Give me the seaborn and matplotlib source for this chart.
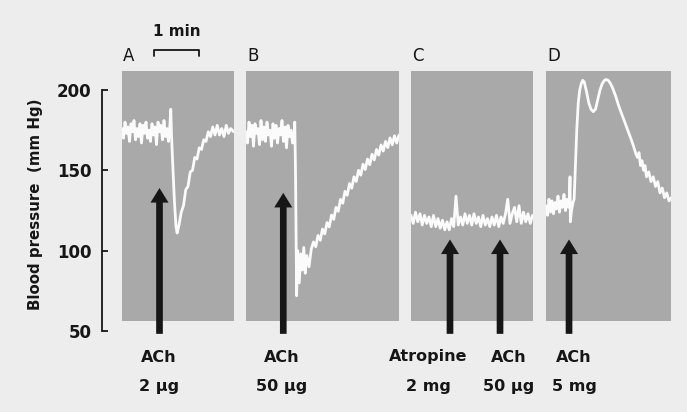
import numpy as np
import pandas as pd
import matplotlib
matplotlib.use("Agg")
import matplotlib.pyplot as plt
from matplotlib.lines import Line2D
import seaborn as sns

# Blood pressure traces, time in s from the start of each panel, pressure in mmHg
# A: ACh 2 ug
a_time = [0, 2, 4, 6, 8, 10, 12, 14, 16, 18, 20, 22, 24, 26, 28, 30, 32, 34, 36, 38, 40,
          42, 44, 46, 48, 50, 52, 54, 56, 58, 60, 62, 64,
          65, 66, 68, 70, 72, 73.5, 76, 79, 82, 85, 88, 91, 94, 97, 100, 103, 106, 109,
          112, 115, 118, 121, 124, 127, 130, 133, 136, 139, 142, 145, 149]
a_bp = [176, 170, 180, 173, 177, 168, 179, 174, 181, 169, 176, 171, 179, 167, 178, 173, 180,
        170, 175, 168, 179, 172, 177, 166, 180, 174, 178, 169, 181, 171, 176, 168, 179,
        188, 172, 150, 130, 115, 111, 116, 124, 128, 138, 140, 149, 150, 158, 157, 164, 163,
        169, 168, 174, 171, 177, 172, 178, 172, 176, 171, 178, 173, 176, 174]

# B: ACh 50 ug
b_time = [0, 2, 4, 6, 8, 10, 12, 14, 16, 18, 20, 22, 24, 26, 28, 30, 32, 34, 36, 38, 40,
          42, 44, 46, 48, 50, 52, 54, 56, 58, 60, 62,
          64, 65, 66, 67.5, 69, 71, 73, 75, 77, 79, 81, 84, 87,
          90, 93, 96, 99, 102, 105, 108, 111, 114, 117, 120, 123, 126, 129, 132, 135, 138,
          141, 144, 147, 150, 153, 156, 159, 162, 165, 168, 171, 174, 177, 180, 183, 186,
          189, 192, 195, 198, 201, 204]
b_bp = [174, 167, 180, 171, 178, 165, 179, 173, 176, 166, 181, 169, 177, 168, 180, 172, 175,
        165, 179, 170, 178, 167, 176, 172, 181, 168, 177, 164, 178, 171, 175, 167,
        172, 180, 150, 72, 100, 80, 98, 88, 102, 86, 97, 90, 101,
        105.5, 102.5, 109.5, 106.5, 113.5, 110.5, 117.5, 114.8, 122.2, 119.5, 127, 124.5,
        132, 129.5, 137, 134.5, 141.8, 138.9, 146, 143.1, 150, 147, 153.8, 150.5, 157,
        153.5, 160, 156.5, 163, 159.5, 165.8, 162, 168, 164.2, 170.2, 165.9, 171.5, 167, 172]

# C: atropine 2 mg, then ACh 50 ug
c_time = [0, 3, 6, 9, 12, 15, 18, 21, 24, 27, 30, 33, 36, 39, 42, 45, 48, 51, 54, 57, 60,
          63, 66, 69, 72, 75, 78, 81, 84, 87, 90, 93, 96, 99, 102, 105, 108, 111, 114, 117,
          120, 123, 126, 129, 132, 135, 138, 141, 144, 147, 150, 153, 156, 159, 162]
c_bp = [122, 117, 124, 118, 123, 116, 122, 117, 121, 115, 122, 115, 120, 114, 119, 113, 118,
        113, 120, 115, 134, 116, 121, 116, 123, 117, 122, 116, 123, 117, 121, 115, 122, 116,
        120, 115, 121, 116, 122, 115, 121, 117, 123, 132, 117, 123, 127, 118, 128, 117, 124,
        118, 123, 117, 122]

# D: ACh 5 mg
d_time = [0, 2, 4, 6, 8, 10, 12, 14, 16, 18, 20, 22, 24, 26, 28, 30,
          31, 32, 32.5, 34, 36, 37.5, 39, 41, 43, 45, 47, 49, 51, 54, 57, 60, 63, 66, 69,
          72, 75, 78, 80, 83, 86, 89, 93, 97, 101, 105, 109, 113, 116, 118, 120, 122, 124,
          126, 128, 130, 132, 134, 137, 140, 143, 146, 149, 152, 155, 158, 161, 164, 167]
d_bp = [128, 122, 132, 124, 131, 123, 130, 126, 134, 124, 131, 127, 135, 125, 132, 127,
        129, 146, 118, 125, 130, 132, 150, 175, 192, 200, 204, 206, 205, 199, 192, 188,
        186.5, 188, 194, 200, 204, 206, 206.5, 206, 204, 201, 196, 190, 185, 180, 175, 170,
        166, 163, 160, 158, 161, 153, 156, 150, 153, 146, 149, 143, 146, 140, 143, 136, 139,
        133, 136, 131, 133]

# injection arrows: time of injection and arrow tip (mmHg)
a_inject = [50]
a_tip = [139]
b_inject = [49.7]
b_tip = [136]
c_inject = [52, 118.7]
c_tip = [107, 107]
d_inject = [30.7]
d_tip = [107]

# drug labels under the arrows
drug_names = ["ACh", "ACh", "Atropine", "ACh", "ACh"]
drug_doses = ["2 μg", "50 μg", "2 mg", "50 μg", "5 mg"]
label_x = [159, 282, 428, 509, 574]   # pixel centres

W, H = 687, 412
PANEL_TOP, PANEL_BOT = 71, 320.5
PX_PER_S = 0.75                      # 45 px = 1 min
YLIM = (56.6, 211.8)
ARROW_BASE = 48.3

sns.set_style("white")
plt.rcParams['font.family'] = ['DejaVu Sans']
plt.rcParams['font.weight'] = 'bold'

ink = '#161616'
paper = '#ededed'
panel_grey = '#a9a9a9'


def rect(x0, y0, x1, y1):
    return [x0 / W, 1 - y1 / H, (x1 - x0) / W, (y1 - y0) / H]


fig = plt.figure(figsize=(W / 100, H / 100), dpi=100, facecolor=paper)

panels = [
    ("A", a_time, a_bp, a_inject, a_tip, 122, 234),
    ("B", b_time, b_bp, b_inject, b_tip, 246, 399),
    ("C", c_time, c_bp, c_inject, c_tip, 411, 533),
    ("D", d_time, d_bp, d_inject, d_tip, 546, 671),
]

for letter, t, bp, inj, tip, x0, x1 in panels:
    ax = fig.add_axes(rect(x0, PANEL_TOP, x1, PANEL_BOT))
    ax.set_facecolor(panel_grey)
    df = pd.DataFrame({"t": t, "bp": bp})
    sns.lineplot(data=df, x="t", y="bp", ax=ax, color='#fbfbfb', lw=2.0,
                 sort=False, estimator=None)
    ax.set_xlim(0, (x1 - x0) / PX_PER_S)
    ax.set_ylim(*YLIM)
    ax.set_xticks([])
    ax.set_yticks([])
    ax.set_xlabel("")
    ax.set_ylabel("")
    for s in ax.spines.values():
        s.set_visible(False)
    # injection arrows, filled shape so the head stays pointed
    for ti, tp in zip(inj, tip):
        ax.annotate("", xy=(ti, tp), xytext=(ti, ARROW_BASE),
                    arrowprops=dict(arrowstyle="simple,head_length=1.05,head_width=1.3,tail_width=0.48",
                                    mutation_scale=10, lw=0, color=ink,
                                    shrinkA=0, shrinkB=0),
                    annotation_clip=False)
    fig.text((x0 + 1) / W, 1 - 56 / H, letter, ha='left', va='center',
             fontsize=12, fontweight='normal', color=ink)

# pressure axis
ax_y = fig.add_axes(rect(102, PANEL_TOP, 103, 336))
ax_y.set_facecolor('none')
ax_y.set_ylim(46.9, 211.8)
ax_y.set_xticks([])
ax_y.set_yticks([50, 100, 150, 200])
for side in ["top", "right", "bottom"]:
    ax_y.spines[side].set_visible(False)
ax_y.spines["left"].set_bounds(50, 200)
ax_y.spines["left"].set_color(ink)
ax_y.spines["left"].set_linewidth(1.3)
ax_y.tick_params(axis='y', direction='in', length=4, width=1.3, color=ink,
                 labelsize=12, labelcolor=ink, pad=7.5, left=True)
fig.text(36 / W, 1 - 204 / H, "Blood pressure  (mm Hg)", rotation=90,
         ha='center', va='center', fontsize=10.8, color=ink)

# 1 min scale bar
fig.text(176.5 / W, 1 - 32 / H, "1 min", ha='center', va='center', fontsize=11, color=ink)
bx = np.array([154, 154, 199, 199]) / W
by = 1 - np.array([56, 49.5, 49.5, 56]) / H
fig.add_artist(Line2D(bx, by, color=ink, lw=1.3))

for x, name, dose in zip(label_x, drug_names, drug_doses):
    fig.text(x / W, 1 - 357 / H, name, ha='center', va='center', fontsize=11.5, color=ink)
    fig.text(x / W, 1 - 386 / H, dose, ha='center', va='center', fontsize=11.5, color=ink)

fig.savefig("out.png", dpi=100, facecolor=paper)
